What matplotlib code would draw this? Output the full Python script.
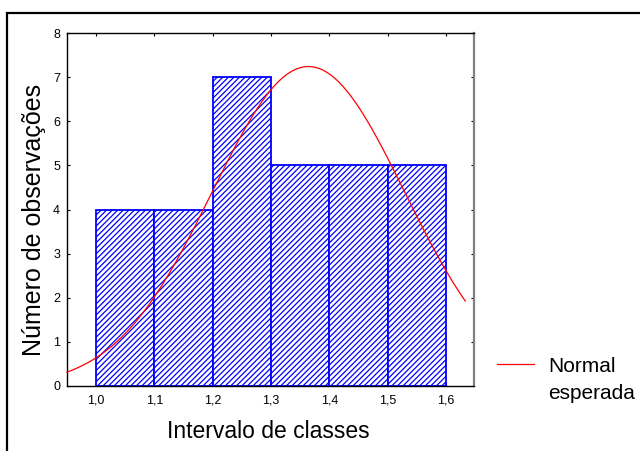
import numpy as np
import matplotlib
matplotlib.use("Agg")
import matplotlib.pyplot as plt
from matplotlib.patches import Rectangle

# Data
bin_edges = [1.0, 1.1, 1.2, 1.3, 1.4, 1.5, 1.6]
counts = [4, 4, 7, 5, 5, 5]
normal_mean = 1.364
normal_sd = 0.1653
n_obs = sum(counts)
x_ticks = [1.0, 1.1, 1.2, 1.3, 1.4, 1.5, 1.6]
x_tick_labels = ["1,0", "1,1", "1,2", "1,3", "1,4", "1,5", "1,6"]
y_ticks = [0, 1, 2, 3, 4, 5, 6, 7, 8]

plt.rcParams['font.family'] = ['Liberation Sans', 'DejaVu Sans']
plt.rcParams['hatch.color'] = '#0000FF'
plt.rcParams['hatch.linewidth'] = 0.9

W, H = 640, 451
fig = plt.figure(figsize=(6.4, 4.51), dpi=100)
L, R, T, B = 67, 474, 33, 386
ax = fig.add_axes([L/W, 1-B/H, (R-L)/W, (B-T)/H])

widths = np.diff(bin_edges)
ax.bar(bin_edges[:-1], counts, width=widths, align='edge', facecolor='white',
       edgecolor='#0000FF', linewidth=1.3, hatch='//////', zorder=2)

xs = np.linspace(0.950, 1.633, 300)
bw = widths[0]
ys = n_obs * bw / (normal_sd * np.sqrt(2*np.pi)) * np.exp(-0.5*((xs-normal_mean)/normal_sd)**2)
line, = ax.plot(xs, ys, color='#FF0000', linewidth=0.9, zorder=3, clip_on=False)

ax.set_xlim(0.950, 1.648)
ax.set_ylim(0, 8)
ax.set_xticks(x_ticks)
ax.set_xticklabels(x_tick_labels)
ax.set_yticks(y_ticks)
ax.tick_params(direction='in', top=True, right=True, labelsize=9, length=2.5, width=0.8)
ax.tick_params(axis='x', pad=6.2)
ax.tick_params(axis='y', pad=5.0)
for s in ['left', 'bottom', 'top']:
    ax.spines[s].set_linewidth(1.0)
ax.spines['right'].set_color('#808080')
ax.spines['right'].set_linewidth(1.6)

ax.set_xlabel('Intervalo de classes', fontsize=16.5)
ax.xaxis.set_label_coords((268.5-L)/(R-L), (B-420)/(B-T))
ax.set_ylabel('Número de observações', fontsize=18)
ax.yaxis.set_label_coords((46-L)/(R-L), (B-219.5)/(B-T))

fig.legend(handles=[line], labels=['Normal'], loc='center left',
           bbox_to_anchor=(497/W, 1-366/H), frameon=False, fontsize=15,
           handlelength=1.78, handletextpad=0.67, borderpad=0, borderaxespad=0)
fig.text(548/W, 1-399/H, 'esperada', fontsize=15, ha='left', va='baseline')

border = Rectangle((7/W, -0.2), 1.2, 0.2 + 1-13/H, transform=fig.transFigure,
                   fill=False, edgecolor='black', linewidth=1.6, clip_on=False)
fig.patches.append(border)

fig.savefig('out.png', dpi=100)
